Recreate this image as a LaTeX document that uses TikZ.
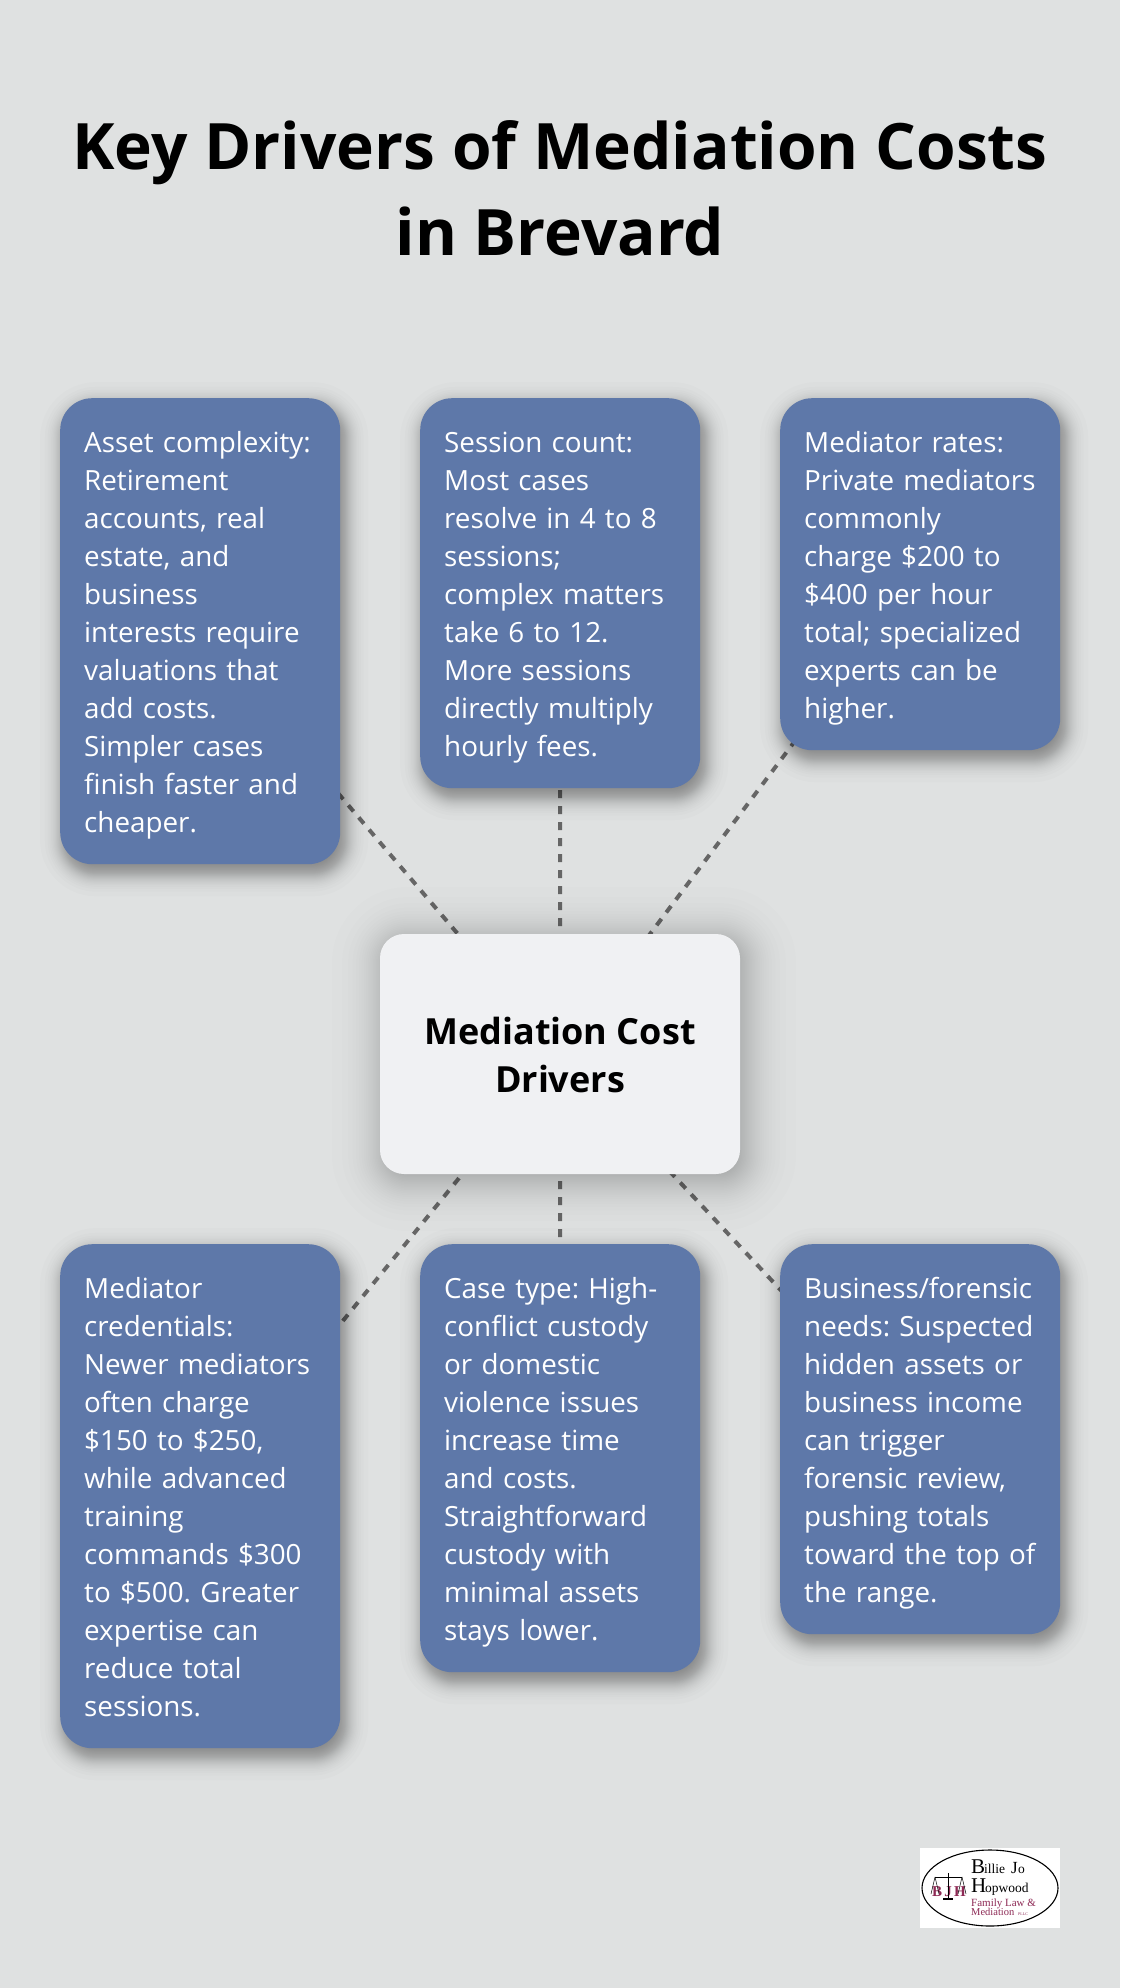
\documentclass[tikz,border=0pt]{standalone}
\usepackage{fontspec}
\setmainfont{Open Sans}
\newfontfamily\logofont{Liberation Serif}
\usetikzlibrary{calc,backgrounds}
\definecolor{pagebg}{HTML}{DFE1E1}
\definecolor{cardblue}{HTML}{5E78A9}
\definecolor{hubfill}{HTML}{F0F1F3}
\definecolor{dashgrey}{HTML}{666666}
\definecolor{logored}{HTML}{8E2A55}
\newcommand{\softshadow}[6]{%
  \foreach \k in {1,...,40}{%
    \pgfmathsetmacro\e{#4/3.7*ln((41-\k)/\k)}%
    \pgfmathsetmacro\rr{max(#5+\e,1)}%
    \fill[black,opacity=#6,rounded corners=\rr pt]
      ($(#1.south west)+(#2-\e,#3+\e)$) rectangle ($(#1.north east)+(#2+\e,#3-\e)$);
  }%
}
\newcommand{\cardtop}{\rule{0pt}{34.6pt}}
\newcommand{\hubtop}{\rule{0pt}{43.6pt}}
\tikzset{
  x=1pt,y=-1pt,
  cardbox/.style={draw=none,fill=cardblue,text=white,rounded corners=32pt,minimum width=280pt,
    text width=232pt,inner xsep=24pt,inner ysep=0pt,align=left,anchor=north west,
    font=\frenchspacing\fontsize{27.8}{38}\selectfont},
  hubbox/.style={draw=none,fill=hubfill,text=black,rounded corners=24pt,minimum width=360pt,minimum height=240pt,
    inner sep=0pt,align=center,font=\fontsize{36}{48}\selectfont\bfseries},
  titletext/.style={text=black,align=center,inner sep=0pt,font=\fontsize{64}{86}\selectfont\bfseries},
  spoke/.style={draw=dashgrey,line width=4pt,dash pattern=on 8pt off 8pt},
  logoblack/.style={inner sep=0pt,text=black,anchor=base west},
  logomaroon/.style={inner sep=0pt,text=logored,anchor=base west},
}
\begin{document}
\begin{tikzpicture}
\useasboundingbox (0,0) rectangle (1120,1988);
\node[titletext] (title) at (560,195) {\strut Key Drivers of Mediation Costs\\\strut in Brevard};
\node[cardbox,minimum height=466pt] (c1) at (60,398) {\cardtop Asset complexity:\\Retirement\\accounts, real\\estate, and\\business\\interests require\\valuations that\\add costs.\\Simpler cases\\finish faster and\\cheaper.\strut};
\node[cardbox,minimum height=390pt] (c2) at (420,398) {\cardtop Session count:\\Most cases\\resolve in 4 to 8\\sessions;\\complex matters\\take 6 to 12.\\More sessions\\directly multiply\\hourly fees.\strut};
\node[cardbox,minimum height=352pt] (c3) at (780,398) {\cardtop Mediator rates:\\Private mediators\\commonly\\charge \$200 to\\\$400 per hour\\total; specialized\\experts can be\\higher.\strut};
\node[cardbox,minimum height=504pt] (c4) at (60,1244) {\cardtop Mediator\\credentials:\\Newer mediators\\often charge\\\$150 to \$250,\\while advanced\\training\\commands \$300\\to \$500. Greater\\expertise can\\reduce total\\sessions.\strut};
\node[cardbox,minimum height=428pt] (c5) at (420,1244) {\cardtop Case type: High-\\conflict custody\\or domestic\\violence issues\\increase time\\and costs.\\Straightforward\\custody with\\minimal assets\\stays lower.\strut};
\node[cardbox,minimum height=390pt] (c6) at (780,1244) {\cardtop Business/forensic\\needs: Suspected\\hidden assets or\\business income\\can trigger\\forensic review,\\pushing totals\\toward the top of\\the range.\strut};
\node[hubbox] (hub) at (560,1054) {\hubtop Mediation Cost\\Drivers\strut};
% logo
\node[fill=white,minimum width=140pt,minimum height=80pt,inner sep=0pt] (logo) at (990,1888) {};
\draw[black,line width=1.1pt] (logo.center) ellipse [x radius=68pt,y radius=38pt];
\node[logoblack,font=\logofont\fontsize{21}{21}\selectfont] (logob) at (971,1873) {B};
\node[logoblack,font=\logofont\fontsize{13.5}{13}\selectfont] (logoillie) at (984,1873) {illie};
\node[logoblack,font=\logofont\fontsize{17}{17}\selectfont] (logoj) at (1011,1873) {J};
\node[logoblack,font=\logofont\fontsize{13.5}{13}\selectfont] (logoo) at (1018,1873) {o};
\node[logoblack,font=\logofont\fontsize{21}{21}\selectfont] (logoh) at (971,1892) {H};
\node[logoblack,font=\logofont\fontsize{13.5}{13}\selectfont] (logoopw) at (985,1892) {opwood};
\node[logomaroon,font=\logofont\fontsize{11}{11}\selectfont] (logofl) at (971,1906) {Family Law \&};
\node[logomaroon,font=\logofont\fontsize{10.5}{11}\selectfont] (logomed) at (971,1915) {Mediation};
\node[logomaroon,font=\logofont\fontsize{4}{4}\selectfont] (logopllc) at (1018,1915) {PLLC};
\node[logomaroon,font=\logofont\bfseries\fontsize{15}{15}\selectfont,anchor=base] (logobl) at (937,1896) {B};
\node[logomaroon,font=\logofont\bfseries\fontsize{15}{15}\selectfont,anchor=base] (logojl) at (948,1896) {J};
\node[logomaroon,font=\logofont\bfseries\fontsize{15}{15}\selectfont,anchor=base] (logohl) at (960,1896) {H};
\coordinate (poletop) at (948,1873);
\coordinate (polebot) at (948,1898);
\coordinate (beaml) at (935,1877);
\coordinate (beamr) at (962,1877);
\coordinate (basel) at (943,1899);
\coordinate (baser) at (953,1899);
\draw[black,line width=.7pt] (poletop) -- (polebot) (beaml) -- (beamr);
\draw[black,line width=1.5pt] (basel) -- (baser);
\draw[black,line width=.5pt] (beaml) -- ++(-4,17) (beaml) -- ++(4,17) (beamr) -- ++(-4,17) (beamr) -- ++(4,17);
\begin{scope}[on background layer]
\fill[pagebg] (0,0) rectangle (1120,1988);
\draw[spoke,dash phase=11.4pt] (c1.center) -- (hub.center);
\draw[spoke,dash phase=11pt] (c2.center) -- (hub.center);
\draw[spoke,dash phase=1pt] (c3.center) -- (hub.center);
\draw[spoke,dash phase=14pt] (c4.center) -- (hub.center);
\draw[spoke,dash phase=3pt] (c5.center) -- (hub.center);
\draw[spoke,dash phase=8.7pt] (c6.center) -- (hub.center);
\softshadow{c1}{4}{8}{24}{32}{0.012}
\softshadow{c2}{4}{8}{24}{32}{0.012}
\softshadow{c3}{4}{8}{24}{32}{0.012}
\softshadow{c4}{4}{8}{24}{32}{0.012}
\softshadow{c5}{4}{8}{24}{32}{0.012}
\softshadow{c6}{4}{8}{24}{32}{0.012}
\softshadow{hub}{4}{5}{52}{24}{0.006}
\end{scope}
\end{tikzpicture}
\end{document}
